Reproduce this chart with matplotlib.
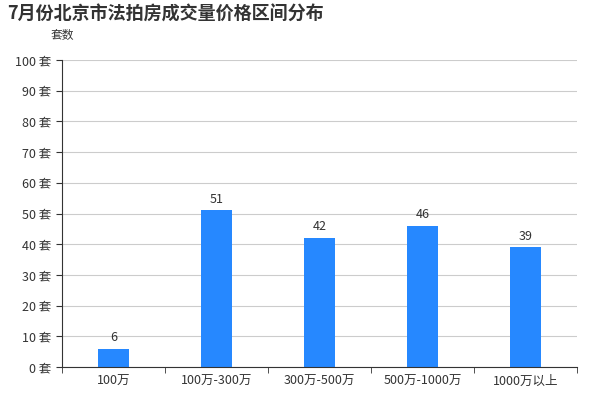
import matplotlib.pyplot as plt

plt.rcParams['font.family'] = ['Noto Sans CJK SC', 'DejaVu Sans']

categories = ["100万", "100万-300万", "300万-500万", "500万-1000万", "1000万以上"]
counts = [6, 51, 42, 46, 39]
yticks = [0, 10, 20, 30, 40, 50, 60, 70, 80, 90, 100]

fig = plt.figure(figsize=(6, 4), dpi=100)
ax = fig.add_axes([0.103, 0.0825, 0.859, 0.7675])

x = range(len(categories))
ax.bar(x, counts, width=0.3, color="#2688ff")
for xi, v in zip(x, counts):
    ax.text(xi, v + 1.5, str(v), ha="center", va="bottom", fontsize=9, color="#333333")

ax.set_xlim(-0.5, len(categories) - 0.5)
ax.set_ylim(0, 100)
ax.set_yticks(yticks)
ax.set_yticklabels([f"{t} 套" for t in yticks], fontsize=9, color="#333333")
ax.set_xticks(list(x))
ax.set_xticklabels(categories, fontsize=9, color="#333333")
ax.set_xticks([i - 0.5 for i in range(len(categories) + 1)], minor=True)
ax.grid(axis="y", color="#cccccc", linewidth=0.8)
ax.set_axisbelow(True)
for s in ["top", "right"]:
    ax.spines[s].set_visible(False)
ax.spines["left"].set_color("#333333")
ax.spines["bottom"].set_color("#333333")
ax.tick_params(axis="y", length=4, colors="#333333")
ax.tick_params(axis="x", which="major", length=0, pad=6)
ax.tick_params(axis="x", which="minor", length=4, color="#333333")

fig.text(0.085, 0.895, "套数", fontsize=8.5, color="#333333", ha="left", va="bottom")
fig.text(0.012, 0.965, "7月份北京市法拍房成交量价格区间分布", fontsize=13, fontweight="bold",
         color="#333333", ha="left", va="center")

fig.savefig("out.png")
